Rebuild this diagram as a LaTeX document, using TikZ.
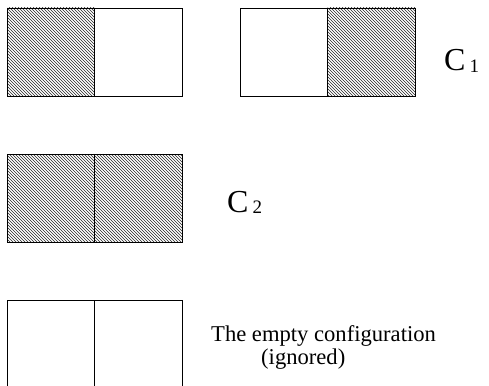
\documentclass[tikz,border=0pt]{standalone}
\usepackage{fontspec}
\setmainfont{Liberation Serif}
\usepackage{tikz}
\usetikzlibrary{patterns,positioning}

\tikzset{
  cell/.style={draw,line width=0.9pt,minimum width=87.5pt,minimum height=88pt,inner sep=0pt,outer sep=0pt},
  hcell/.style={cell,pattern=north west lines,pattern color=black!85},
  clabel/.style={anchor=base west,inner sep=0pt,font=\fontsize{32}{32}\selectfont}
}
\newcommand{\csub}[1]{\hspace{4pt}\raisebox{-1.5pt}{\fontsize{19}{19}\selectfont #1}}

\begin{document}
\begin{tikzpicture}[x=1pt,y=-1pt]
  \clip (0,0) rectangle (489,385);

  % C_1 : one of the two cells filled
  \node[hcell] (a1) at (50.75,52) {};
  \node[cell]  (a2) at (138.25,52) {};
  \node[cell]  (b1) at (283.75,52) {};
  \node[hcell] (b2) at (371.25,52) {};
  \node[clabel] (c1) at (444,71) {C\csub{1}};

  % C_2 : both cells filled
  \node[hcell] (d1) at (50.75,198) {};
  \node[hcell] (d2) at (138.25,198) {};
  \node[clabel] (c2) at (227,212) {C\csub{2}};

  % empty one, cut at the bottom
  \node[cell] (e1) at (50.75,344) {};
  \node[cell] (e2) at (138.25,344) {};
  \node[anchor=north west,inner sep=0pt,align=left,font=\fontsize{22.6}{23}\selectfont]
    (empty) at (211,325) {The empty configuration\\\hspace*{50pt}(ignored)};
\end{tikzpicture}
\end{document}
